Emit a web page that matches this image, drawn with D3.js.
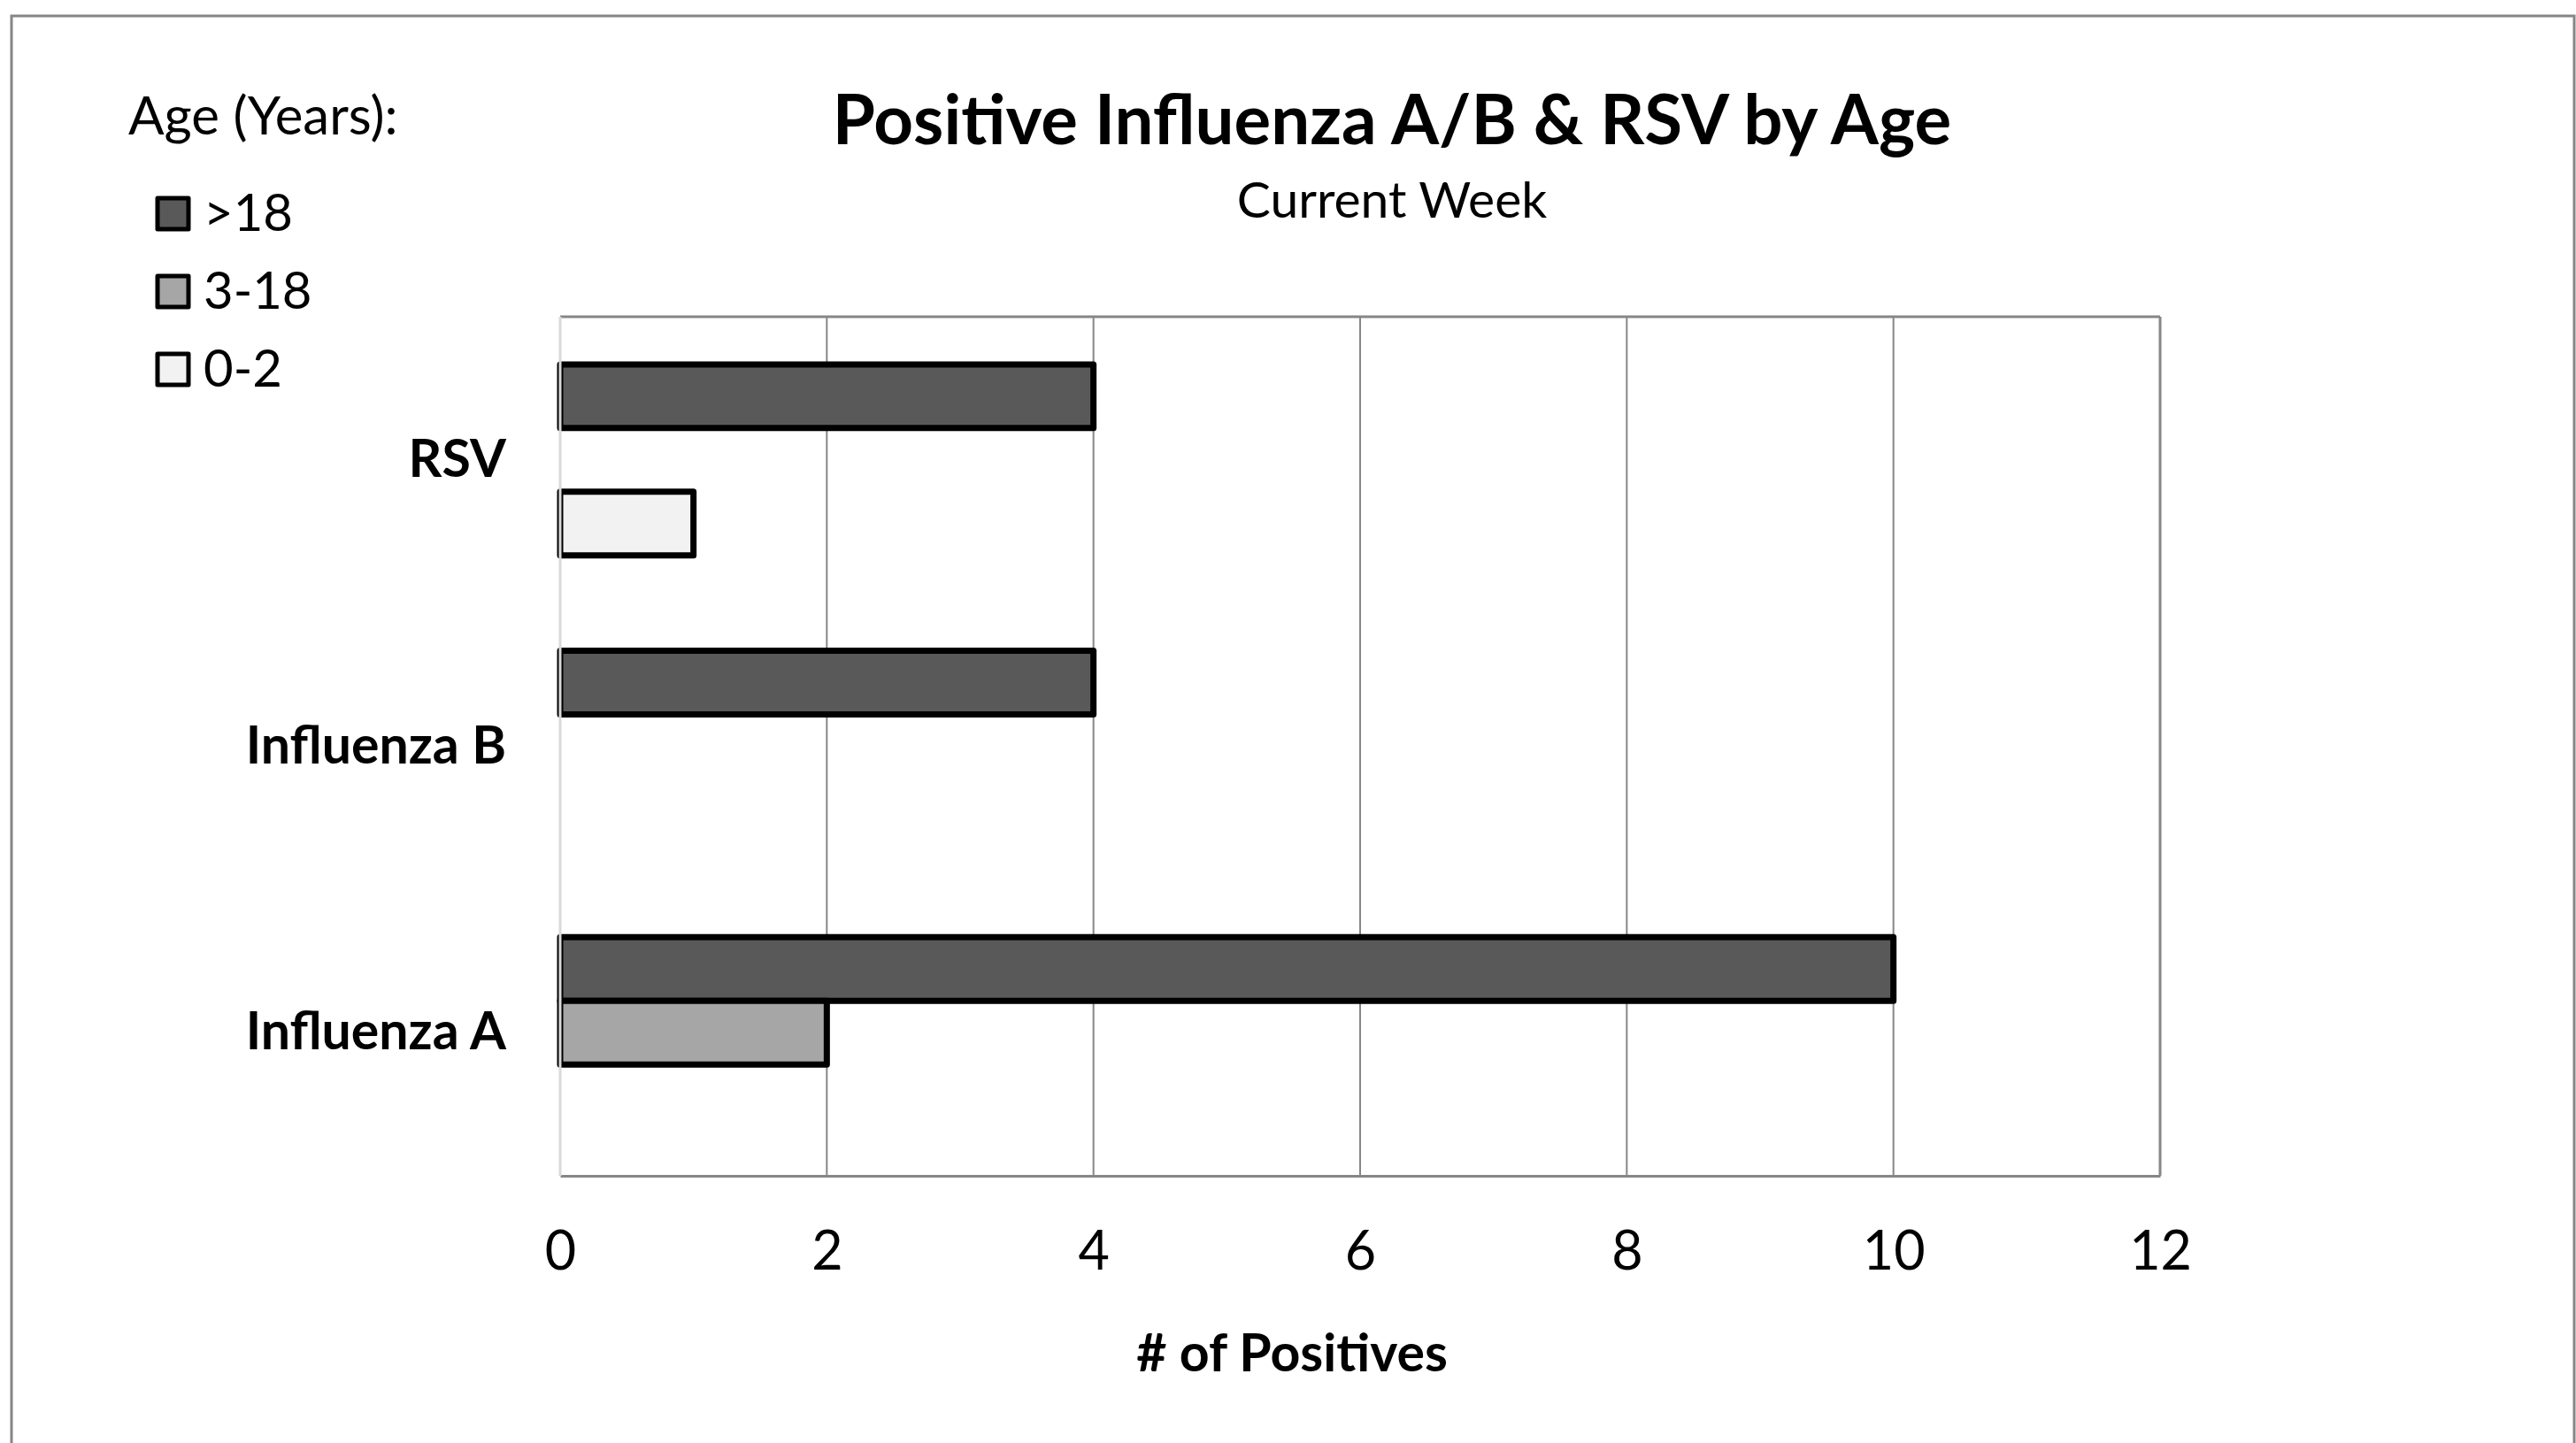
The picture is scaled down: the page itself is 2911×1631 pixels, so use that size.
<!DOCTYPE html>
<html>
<head>
<meta charset="utf-8">
<script src="https://d3js.org/d3.v7.min.js"></script>
<style>
  body { margin: 0; background: #fff; }
  svg { font-family: Lato, "Open Sans", sans-serif; }
</style>
</head>
<body>
<div id="chart"></div>
<script>
// chart data
var categories = ["RSV", "Influenza B", "Influenza A"];
var ageGroups = [">18", "3-18", "0-2"];
var over18 = [4, 4, 10];
var age3to18 = [0, 0, 2];
var age0to2 = [1, 0, 0];
var xTicks = [0, 2, 4, 6, 8, 10, 12];
var groupColors = ["#595959", "#a6a6a6", "#f2f2f2"];

var W = 2911, H = 1631;
var margin = { top: 358, right: 470, bottom: 302, left: 633 };

var svg = d3.select("#chart").append("svg")
  .attr("width", W)
  .attr("height", H);

// outer chart border
svg.append("rect")
  .attr("x", 13).attr("y", 18)
  .attr("width", 2896).attr("height", 1660)
  .attr("fill", "none")
  .attr("stroke", "#868686")
  .attr("stroke-width", 3);

var x = d3.scaleLinear()
  .domain([0, 12])
  .range([margin.left, W - margin.right]);

var y = d3.scaleBand()
  .domain(categories)
  .range([margin.top, H - margin.bottom]);

// Excel style gap width 150%
var ySub = d3.scaleBand()
  .domain(ageGroups)
  .range([0, y.bandwidth()])
  .paddingOuter(0.75);

// gridlines
svg.append("g")
  .selectAll("line")
  .data(xTicks)
  .enter().append("line")
  .attr("x1", function (d) { return x(d); })
  .attr("x2", function (d) { return x(d); })
  .attr("y1", margin.top)
  .attr("y2", H - margin.bottom)
  .attr("stroke", "#868686")
  .attr("stroke-width", function (d) { return d == 12 ? 3 : 2; });

// top edge of plot area
svg.append("line")
  .attr("x1", x(0)).attr("x2", x(12))
  .attr("y1", margin.top).attr("y2", margin.top)
  .attr("stroke", "#868686").attr("stroke-width", 3);

// bars
var rows = [];
categories.forEach(function (c, i) {
  var vals = [over18[i], age3to18[i], age0to2[i]];
  vals.forEach(function (v, j) {
    rows.push({ cat: c, group: ageGroups[j], value: v, color: groupColors[j] });
  });
});

svg.append("g")
  .selectAll("rect")
  .data(rows.filter(function (d) { return d.value > 0; }))
  .enter().append("rect")
  .attr("x", x(0))
  .attr("y", function (d) { return y(d.cat) + ySub(d.group); })
  .attr("width", function (d) { return x(d.value) - x(0); })
  .attr("height", ySub.bandwidth())
  .attr("fill", function (d) { return d.color; })
  .attr("stroke", "#000")
  .attr("stroke-width", 7)
  .attr("stroke-linejoin", "round");

// x axis line + labels
var xAxis = svg.append("g")
  .attr("transform", "translate(0," + (H - margin.bottom) + ")")
  .call(d3.axisBottom(x).tickValues(xTicks).tickSize(0).tickPadding(106).tickFormat(d3.format("d")));
xAxis.select(".domain").attr("stroke", "#868686").attr("stroke-width", 3);
xAxis.selectAll("text")
  .attr("font-family", "Lato, sans-serif")
  .attr("font-size", 61)
  .attr("fill", "#000")
  .attr("dy", 0);

// y axis line (light)
svg.append("line")
  .attr("x1", x(0)).attr("x2", x(0))
  .attr("y1", margin.top).attr("y2", H - margin.bottom)
  .attr("stroke", "#d9d9d9").attr("stroke-width", 3);

// category labels
svg.append("g")
  .selectAll("text")
  .data(categories)
  .enter().append("text")
  .attr("x", 572)
  .attr("y", function (d) { return y(d) + y.bandwidth() / 2 + 19; })
  .attr("text-anchor", "end")
  .attr("font-size", 59)
  .attr("font-weight", "bold")
  .text(function (d) { return d; });

// titles
svg.append("text")
  .attr("x", 1573).attr("y", 163)
  .attr("text-anchor", "middle")
  .attr("font-size", 78)
  .attr("font-weight", "bold")
  .text("Positive Influenza A/B & RSV by Age");

svg.append("text")
  .attr("x", 1573).attr("y", 246)
  .attr("text-anchor", "middle")
  .attr("font-size", 57)
  .text("Current Week");

svg.append("text")
  .attr("x", 1460).attr("y", 1550)
  .attr("text-anchor", "middle")
  .attr("font-size", 59)
  .attr("font-weight", "bold")
  .text("# of Positives");

// legend
svg.append("text")
  .attr("x", 145).attr("y", 152)
  .attr("font-size", 60)
  .text("Age (Years):");

var legend = svg.append("g")
  .selectAll("g")
  .data(ageGroups)
  .enter().append("g")
  .attr("transform", function (d, i) { return "translate(178," + (224 + i * 88) + ")"; });

legend.append("rect")
  .attr("width", 35).attr("height", 35)
  .attr("fill", function (d, i) { return groupColors[i]; })
  .attr("stroke", "#000")
  .attr("stroke-width", 5)
  .attr("stroke-linejoin", "round");

legend.append("text")
  .attr("x", 52).attr("y", 37)
  .attr("font-size", 58)
  .text(function (d) { return d; });
</script>
</body>
</html>
